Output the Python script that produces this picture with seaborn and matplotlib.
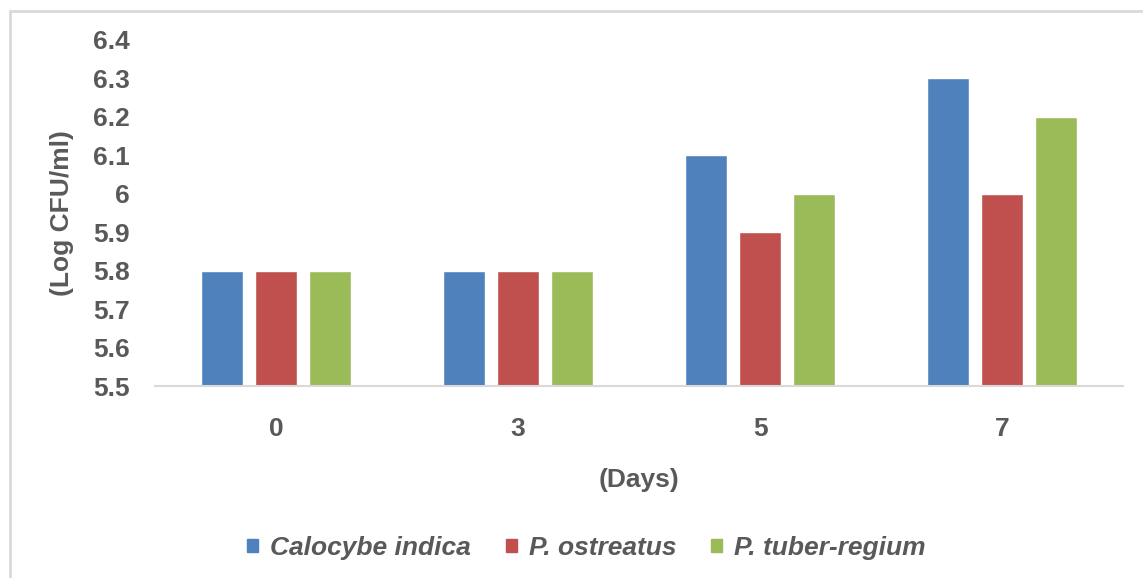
"""
Log CFU/ml pe zile pentru trei specii de ciuperci - grafic cu bare grupate.
"""
import pandas as pd
import matplotlib.pyplot as plt
import matplotlib.patches as mpatches
import seaborn as sns

# ─────────────────────────────────────────────────────────────────
# DATE
# ─────────────────────────────────────────────────────────────────
days = ["0", "3", "5", "7"]
species = ["Calocybe indica", "P. ostreatus", "P. tuber-regium"]
calocybe = [5.8, 5.8, 6.1, 6.3]
ostreatus = [5.8, 5.8, 5.9, 6.0]
tuber_regium = [5.8, 5.8, 6.0, 6.2]

COLORS = ["#4F81BD", "#C0504D", "#9BBB59"]
TEXT = "#595959"

df = pd.DataFrame({
    "day": days * 3,
    "species": [species[0]] * 4 + [species[1]] * 4 + [species[2]] * 4,
    "value": calocybe + ostreatus + tuber_regium,
})

sns.set_theme(style="white")
plt.rcParams["font.family"] = ["Liberation Sans", "DejaVu Sans"]

fig = plt.figure(figsize=(11.43, 5.78), dpi=100)
ax = fig.add_axes([0.1356, 0.332, 0.8470, 0.599])

sns.barplot(data=df, x="day", y="value", hue="species", order=days,
            hue_order=species, palette=COLORS, width=0.67, gap=0.22,
            saturation=1, ax=ax, legend=False)

ax.set_ylim(5.5, 6.4)
ax.set_yticks([5.5, 5.6, 5.7, 5.8, 5.9, 6.0, 6.1, 6.2, 6.3, 6.4])
ax.set_yticklabels(["5.5", "5.6", "5.7", "5.8", "5.9", "6", "6.1", "6.2", "6.3", "6.4"])
ax.set_xlim(-0.5, 3.5)

ax.tick_params(axis="both", length=0, labelsize=19, labelcolor=TEXT)
ax.tick_params(axis="y", pad=18)
ax.tick_params(axis="x", pad=22)
for lbl in ax.get_xticklabels() + ax.get_yticklabels():
    lbl.set_fontweight("bold")

for side in ["top", "right", "left"]:
    ax.spines[side].set_visible(False)
ax.spines["bottom"].set_color("#D9D9D9")
ax.spines["bottom"].set_linewidth(1.5)

ax.set_xlabel("(Days)", fontsize=19, fontweight="bold", color=TEXT, labelpad=20)
ax.set_ylabel("(Log CFU/ml)", fontsize=19, fontweight="bold", color=TEXT, labelpad=14)

handles = [mpatches.Patch(color=c, label=s) for c, s in zip(COLORS, species)]
fig.legend(handles=handles, loc="center", bbox_to_anchor=(0.513, 0.052), ncol=3,
           frameon=False, handlelength=0.42, handleheight=0.42, handletextpad=0.45,
           columnspacing=1.33,
           prop={"size": 19, "weight": "bold", "style": "italic"},
           labelcolor=TEXT)

# chenarul graficului
fig.patches.append(mpatches.Rectangle((10 / 1143, -0.05), 1.1, 1 - 11 / 578 + 0.05,
                                      transform=fig.transFigure, fill=False,
                                      edgecolor="#D9D9D9", linewidth=2))

fig.savefig("out.png", dpi=100)
